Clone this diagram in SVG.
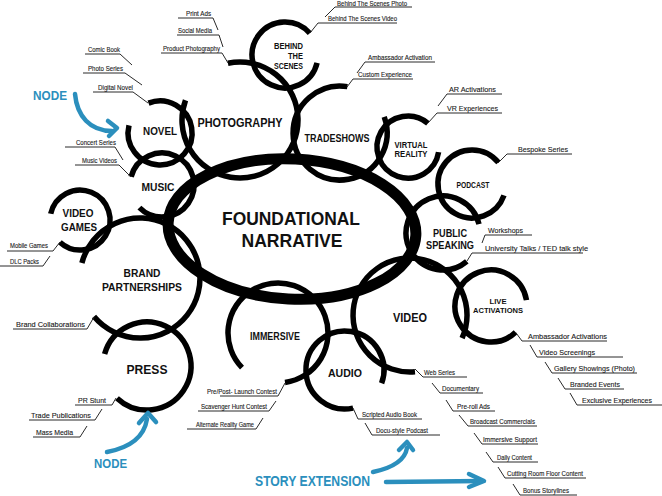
<svg xmlns="http://www.w3.org/2000/svg" width="662" height="496" viewBox="0 0 662 496">
<style>
.ring{fill:none;stroke:#000;stroke-width:5.5}
.hub{fill:none;stroke:#000;stroke-width:11}
.ld{fill:none;stroke:#2a2a2a;stroke-width:1}
.lb{font-family:"Liberation Sans",Arial,sans-serif;font-size:7px;fill:#1a1a1a;stroke:#1a1a1a;stroke-width:0.12}
.lm{font-size:8px}
.nt{font-family:"Liberation Sans",Arial,sans-serif;font-weight:bold;fill:#111;text-anchor:middle}
.blue{fill:none;stroke:#2b8fbd;stroke-width:4.5;stroke-linecap:round;stroke-linejoin:round}
.bt{font-family:"Liberation Sans",Arial,sans-serif;font-weight:bold;fill:#2b8fbd}
</style>
<rect width="662" height="496" fill="#fff"/>

<g id="hub">
<ellipse class="hub" cx="292" cy="229" rx="124" ry="70" transform="rotate(3 292 229)"/>
<text class="nt" x="291" y="225" font-size="18.5" textLength="138" lengthAdjust="spacingAndGlyphs">FOUNDATIONAL</text>
<text class="nt" x="292" y="247" font-size="18.5" textLength="101" lengthAdjust="spacingAndGlyphs">NARRATIVE</text>
</g>

<g id="novel">
<path class="ring" d="M148.5,103.1 A32,32 0 1 1 129.0,125.3"/>
<text class="nt" x="160" y="135" font-size="11.5" textLength="34" lengthAdjust="spacingAndGlyphs">NOVEL</text>
<text class="lb" x="88" y="52" textLength="32" lengthAdjust="spacingAndGlyphs">Comic Book</text>
<text class="lb" x="88" y="71" textLength="35" lengthAdjust="spacingAndGlyphs">Photo Series</text>
<text class="lb" x="98" y="90" textLength="35" lengthAdjust="spacingAndGlyphs">Digital Novel</text>
</g>

<g id="photography">
<path class="ring" d="M227.9,63.3 A58,58 0 1 1 185.5,100.2"/>
<text class="nt" x="240" y="127" font-size="12.5" textLength="85" lengthAdjust="spacingAndGlyphs">PHOTOGRAPHY</text>
<text class="lb" x="186" y="16" textLength="25" lengthAdjust="spacingAndGlyphs">Print Ads</text>
<text class="lb" x="178" y="33" textLength="34" lengthAdjust="spacingAndGlyphs">Social Media</text>
<text class="lb" x="163" y="51" textLength="57" lengthAdjust="spacingAndGlyphs">Product Photography</text>
</g>

<g id="behind-the-scenes">
<path class="ring" d="M317.1,62.8 A33,33 0 1 1 309.8,33.2"/>
<text class="nt" x="303" y="49" font-size="9.5" style="text-anchor:end" textLength="29" lengthAdjust="spacingAndGlyphs">BEHIND</text>
<text class="nt" x="303" y="59" font-size="9.5" style="text-anchor:end" textLength="15" lengthAdjust="spacingAndGlyphs">THE</text>
<text class="nt" x="303" y="68.5" font-size="9.5" style="text-anchor:end" textLength="29" lengthAdjust="spacingAndGlyphs">SCENES</text>
<text class="lb" x="337" y="5.5" textLength="70" lengthAdjust="spacingAndGlyphs">Behind The Scenes Photo</text>
<text class="lb" x="328" y="21" textLength="69" lengthAdjust="spacingAndGlyphs">Behind The Scenes Video</text>
</g>

<g id="tradeshows">
<path class="ring" d="M384.2,116.9 A47,47 0 1 1 347.4,86.6"/>
<text class="nt" x="337" y="142" font-size="11.5" textLength="65" lengthAdjust="spacingAndGlyphs">TRADESHOWS</text>
<text class="lb" x="368" y="60" textLength="64" lengthAdjust="spacingAndGlyphs">Ambassador Activation</text>
<text class="lb" x="358" y="77" textLength="54" lengthAdjust="spacingAndGlyphs">Custom Experience</text>
</g>

<g id="virtual-reality">
<path class="ring" d="M438.6,152.1 A31,31 0 1 1 427.9,123.3"/>
<text class="nt" x="411" y="147.5" font-size="9.3" textLength="33" lengthAdjust="spacingAndGlyphs">VIRTUAL</text>
<text class="nt" x="411" y="157" font-size="9.3" textLength="33" lengthAdjust="spacingAndGlyphs">REALITY</text>
<text class="lb lm" x="449" y="92" textLength="47" lengthAdjust="spacingAndGlyphs">AR Activations</text>
<text class="lb lm" x="447" y="111" textLength="51" lengthAdjust="spacingAndGlyphs">VR Experiences</text>
</g>

<g id="podcast">
<path class="ring" d="M504.0,195.4 A34,34 0 1 1 498.4,162.6"/>
<text class="nt" x="473" y="188" font-size="8.5" textLength="33" lengthAdjust="spacingAndGlyphs">PODCAST</text>
<text class="lb lm" x="518" y="152" textLength="50" lengthAdjust="spacingAndGlyphs">Bespoke Series</text>
</g>

<g id="public-speaking">
<path class="ring" d="M466.8,261.3 A37,37 0 1 1 479.0,224.2"/>
<text class="nt" x="450" y="237" font-size="11" textLength="34" lengthAdjust="spacingAndGlyphs">PUBLIC</text>
<text class="nt" x="450" y="248.5" font-size="11" textLength="48" lengthAdjust="spacingAndGlyphs">SPEAKING</text>
<text class="lb lm" x="488" y="233" textLength="35" lengthAdjust="spacingAndGlyphs">Workshops</text>
<text class="lb lm" x="485" y="251" textLength="103" lengthAdjust="spacingAndGlyphs">University Talks / TED talk style</text>
</g>

<g id="live-activations">
<path class="ring" d="M515.6,332.3 A36,36 0 1 1 526.5,300.1"/>
<text class="nt" x="498" y="304" font-size="8" textLength="17" lengthAdjust="spacingAndGlyphs">LIVE</text>
<text class="nt" x="498" y="313" font-size="8" textLength="50" lengthAdjust="spacingAndGlyphs">ACTIVATIONS</text>
<text class="lb lm" x="528" y="339" textLength="79" lengthAdjust="spacingAndGlyphs">Ambassador Activations</text>
<text class="lb lm" x="539" y="355" textLength="56" lengthAdjust="spacingAndGlyphs">Video Screenings</text>
<text class="lb lm" x="554" y="371" textLength="81" lengthAdjust="spacingAndGlyphs">Gallery Showings (Photo)</text>
<text class="lb lm" x="570" y="387" textLength="50" lengthAdjust="spacingAndGlyphs">Branded Events</text>
<text class="lb" x="582" y="403" font-size="7.5" textLength="70" lengthAdjust="spacingAndGlyphs">Exclusive Experiences</text>
</g>

<g id="video">
<path class="ring" d="M415.0,371.8 A57,57 0 1 1 462.1,338.2"/>
<text class="nt" x="410" y="322" font-size="12.5" textLength="34" lengthAdjust="spacingAndGlyphs">VIDEO</text>
<text class="lb" x="424" y="375" textLength="31" lengthAdjust="spacingAndGlyphs">Web Series</text>
<text class="lb" x="442" y="391" textLength="37" lengthAdjust="spacingAndGlyphs">Documentary</text>
<text class="lb" x="457" y="409" textLength="33" lengthAdjust="spacingAndGlyphs">Pre-roll Ads</text>
<text class="lb" x="470" y="424" textLength="65" lengthAdjust="spacingAndGlyphs">Broadcast Commercials</text>
<text class="lb" x="483" y="442" textLength="54" lengthAdjust="spacingAndGlyphs">Immersive Support</text>
<text class="lb" x="497" y="460" textLength="35" lengthAdjust="spacingAndGlyphs">Daily Content</text>
<text class="lb" x="507" y="476" textLength="76" lengthAdjust="spacingAndGlyphs">Cutting Room Floor Content</text>
<text class="lb" x="523" y="493" textLength="46" lengthAdjust="spacingAndGlyphs">Bonus Storylines</text>
</g>

<g id="audio">
<path class="ring" d="M353.1,408.1 A39,39 0 1 1 381.6,383.3"/>
<text class="nt" x="345" y="377" font-size="11.5" textLength="34" lengthAdjust="spacingAndGlyphs">AUDIO</text>
<text class="lb" x="362" y="417" textLength="55" lengthAdjust="spacingAndGlyphs">Scripted Audio Book</text>
<text class="lb" x="376" y="433" textLength="52" lengthAdjust="spacingAndGlyphs">Docu-style Podcast</text>
</g>

<g id="immersive">
<path class="ring" d="M242.0,367.7 A50,50 0 1 1 285.0,382.5"/>
<text class="nt" x="275" y="340" font-size="10" textLength="50" lengthAdjust="spacingAndGlyphs">IMMERSIVE</text>
<text class="lb" x="207" y="394" textLength="70" lengthAdjust="spacingAndGlyphs">Pre/Post- Launch Contest</text>
<text class="lb" x="201" y="409" textLength="66" lengthAdjust="spacingAndGlyphs">Scavenger Hunt Contest</text>
<text class="lb" x="196" y="427" textLength="58" lengthAdjust="spacingAndGlyphs">Alternate Reality Game</text>
</g>

<g id="press">
<path class="ring" d="M104.6,354.1 A44,44 0 1 1 117.0,398.2"/>
<text class="nt" x="147" y="374" font-size="13.5" textLength="41" lengthAdjust="spacingAndGlyphs">PRESS</text>
<text class="lb lm" x="78" y="403" textLength="28" lengthAdjust="spacingAndGlyphs">PR Stunt</text>
<text class="lb lm" x="31" y="418" textLength="60" lengthAdjust="spacingAndGlyphs">Trade Publications</text>
<text class="lb lm" x="36" y="435" textLength="37" lengthAdjust="spacingAndGlyphs">Mass Media</text>
</g>

<g id="brand-partnerships">
<path class="ring" d="M81.9,263.0 A60,60 0 1 1 94.0,316.6"/>
<text class="nt" x="142" y="277" font-size="11" textLength="37" lengthAdjust="spacingAndGlyphs">BRAND</text>
<text class="nt" x="142" y="291" font-size="11" textLength="80" lengthAdjust="spacingAndGlyphs">PARTNERSHIPS</text>
<text class="lb lm" x="16" y="327" textLength="69" lengthAdjust="spacingAndGlyphs">Brand Collaborations</text>
</g>

<g id="music">
<path class="ring" d="M131.1,176.7 A32,32 0 1 1 139.4,207.6"/>
<text class="nt" x="158" y="191" font-size="11.5" textLength="33" lengthAdjust="spacingAndGlyphs">MUSIC</text>
<text class="lb" x="76" y="145" textLength="40" lengthAdjust="spacingAndGlyphs">Concert Series</text>
<text class="lb" x="82" y="163" textLength="35" lengthAdjust="spacingAndGlyphs">Music Videos</text>
</g>

<g id="video-games">
<path class="ring" d="M50.7,213.8 A30,30 0 1 1 59.9,242.3"/>
<text class="nt" x="78" y="217" font-size="11" textLength="31" lengthAdjust="spacingAndGlyphs">VIDEO</text>
<text class="nt" x="79" y="231" font-size="11" textLength="36" lengthAdjust="spacingAndGlyphs">GAMES</text>
<text class="lb" x="10" y="248" textLength="38" lengthAdjust="spacingAndGlyphs">Mobile Games</text>
<text class="lb" x="10" y="264" textLength="29" lengthAdjust="spacingAndGlyphs">DLC Packs</text>
</g>

<g id="connectors">
<path class="ld" d="M178,18H213L218,30"/>
<path class="ld" d="M177,35H219L223,47"/>
<path class="ld" d="M161,53H222L228,63"/>
<path class="ld" d="M85,54H120L132,65"/>
<path class="ld" d="M83,73H125L142,85"/>
<path class="ld" d="M93,92H133L148,103"/>
<path class="ld" d="M65,147H115L123,160"/>
<path class="ld" d="M75,165H119L131,177"/>
<path class="ld" d="M7,251H53L60,242"/>
<path class="ld" d="M0,266H43L50,256"/>
<path class="ld" d="M13,329H87L94,317"/>
<path class="ld" d="M75,405H112L116,398"/>
<path class="ld" d="M29,420H95L102,409"/>
<path class="ld" d="M33,437H80L87,426"/>
<path class="ld" d="M412,7H335L325,17"/>
<path class="ld" d="M397,23H318L310,33"/>
<path class="ld" d="M435,62H365L357,73"/>
<path class="ld" d="M413,79H353L347,87"/>
<path class="ld" d="M502,94H447L438,106"/>
<path class="ld" d="M502,113H437L428,123"/>
<path class="ld" d="M572,154H507L498,163"/>
<path class="ld" d="M532,235H485L482,243"/>
<path class="ld" d="M583,253H472L467,261"/>
<path class="ld" d="M515.6,332.3L522,341H607"/>
<path class="ld" d="M530,345L537,357H623"/>
<path class="ld" d="M545,362L552,373H637"/>
<path class="ld" d="M558,378L565,389H624"/>
<path class="ld" d="M570,393L577,405H662"/>
<path class="ld" d="M415,369L423,377H467"/>
<path class="ld" d="M432,383L440,393H483"/>
<path class="ld" d="M446,400L453,411H495"/>
<path class="ld" d="M459,415L468,426H537"/>
<path class="ld" d="M474,433L482,444H538"/>
<path class="ld" d="M486,452L493,462H538"/>
<path class="ld" d="M498,467L505,478H586"/>
<path class="ld" d="M513,484L520,495H577"/>
<path class="ld" d="M353,408L358,419H422"/>
<path class="ld" d="M365,423L372,435H440"/>
<path class="ld" d="M220,396H278L285,383"/>
<path class="ld" d="M198,411H269L276,401"/>
<path class="ld" d="M187,429H256L263,418"/>
<path class="blue" d="M75,94C77,116 90,131 112,131"/>
<path class="blue" d="M108,121L117,128L109,136"/>
<path class="blue" d="M107,452C128,448 144,438 147,419"/>
<path class="blue" d="M139,423L148,413L156,422"/>
<path class="blue" d="M373,472C392,468 405,460 407,448"/>
<path class="blue" d="M399,450L407,442L413,450"/>
<path class="blue" d="M386,482L482,481"/>
<path class="blue" d="M469,474L484,481L469,487"/>
</g>

<g id="annotations">
<text class="bt" x="33" y="100" font-size="13" textLength="34" lengthAdjust="spacingAndGlyphs">NODE</text>
<text class="bt" x="94" y="468" font-size="13" textLength="33" lengthAdjust="spacingAndGlyphs">NODE</text>
<text class="bt" x="255" y="486" font-size="15" textLength="115" lengthAdjust="spacingAndGlyphs">STORY EXTENSION</text>
</g>
</svg>
